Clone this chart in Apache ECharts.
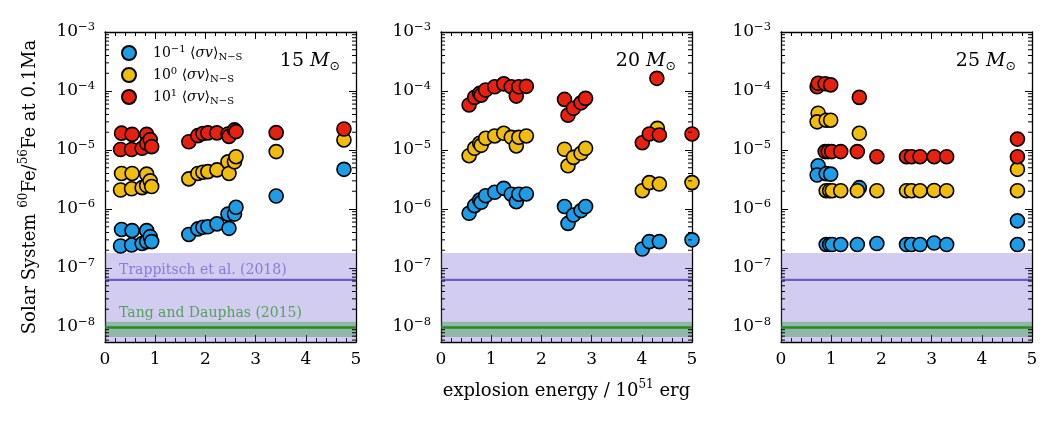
<!DOCTYPE html>
<html>
<head>
<meta charset="utf-8">
<script src="https://cdn.jsdelivr.net/npm/echarts@6/dist/echarts.min.js"></script>
<style>
  html, body { margin: 0; padding: 0; background: #fff; }
  #chart { width: 1062px; height: 424px; }
</style>
</head>
<body>
<div id="chart"></div>
<script>
// values: [explosion energy (1e51 erg), 60Fe/56Fe]
var m15Blue = [[0.31, 2.36e-7], [0.33, 4.5e-7], [0.53, 2.45e-7], [0.54, 4.3e-7], [0.74, 2.6e-7], [0.83, 4.3e-7], [0.83, 2.8e-7], [0.9, 3.4e-7], [0.93, 2.8e-7],
  [1.67, 3.7e-7], [1.85, 4.6e-7], [1.95, 4.9e-7], [2.05, 5.0e-7], [2.23, 5.6e-7], [2.45, 8.2e-7], [2.47, 4.7e-7], [2.58, 8.2e-7], [2.61, 1.07e-6], [3.41, 1.66e-6], [4.76, 4.7e-6]]
var m15Yellow = [[0.31, 2.1e-6], [0.33, 4.0e-6], [0.53, 2.2e-6], [0.54, 4.0e-6], [0.74, 2.3e-6], [0.83, 3.9e-6], [0.83, 2.5e-6], [0.9, 3.0e-6], [0.93, 2.4e-6],
  [1.67, 3.24e-6], [1.85, 4.0e-6], [1.95, 4.2e-6], [2.05, 4.3e-6], [2.23, 4.6e-6], [2.45, 6.3e-6], [2.47, 4.0e-6], [2.58, 6.3e-6], [2.61, 7.7e-6], [3.41, 9.4e-6], [4.76, 1.48e-5]]
var m15Red = [[0.31, 1.02e-5], [0.33, 1.93e-5], [0.53, 1.02e-5], [0.54, 1.84e-5], [0.74, 1.07e-5], [0.83, 1.84e-5], [0.83, 1.3e-5], [0.9, 1.5e-5], [0.93, 1.14e-5],
  [1.67, 1.38e-5], [1.85, 1.75e-5], [1.95, 1.9e-5], [2.05, 1.95e-5], [2.23, 1.95e-5], [2.45, 1.87e-5], [2.47, 1.7e-5], [2.58, 2.19e-5], [2.61, 2.05e-5], [3.41, 1.97e-5], [4.76, 2.27e-5]]

var m20Blue = [[0.56, 8.45e-7], [0.67, 1.14e-6], [0.77, 1.42e-6], [0.8, 1.3e-6], [0.89, 1.68e-6], [1.07, 1.92e-6], [1.25, 2.24e-6], [1.4, 1.78e-6], [1.5, 1.33e-6], [1.55, 1.78e-6], [1.7, 1.8e-6],
  [2.46, 1.1e-6], [2.53, 5.7e-7], [2.64, 7.9e-7], [2.79, 9.4e-7], [2.88, 1.1e-6], [4.01, 2.1e-7], [4.15, 2.8e-7], [4.35, 2.8e-7], [5.0, 3.0e-7]]
var m20Yellow = [[0.56, 8.0e-6], [0.67, 1.07e-5], [0.77, 1.3e-5], [0.8, 1.2e-5], [0.89, 1.58e-5], [1.07, 1.73e-5], [1.25, 1.92e-5], [1.4, 1.64e-5], [1.5, 1.17e-5], [1.55, 1.64e-5], [1.7, 1.73e-5],
  [2.46, 1.03e-5], [2.53, 5.4e-6], [2.64, 7.5e-6], [2.79, 8.8e-6], [2.88, 1.07e-5], [4.01, 2.04e-6], [4.15, 2.8e-6], [4.31, 2.33e-5], [4.35, 2.65e-6], [5.0, 2.8e-6]]
var m20Red = [[0.56, 5.8e-5], [0.67, 7.8e-5], [0.77, 9.1e-5], [0.8, 8.5e-5], [0.89, 1.04e-4], [1.07, 1.18e-4], [1.25, 1.32e-4], [1.4, 1.18e-4], [1.5, 8.2e-5], [1.55, 1.18e-4], [1.7, 1.2e-4],
  [2.46, 7.2e-5], [2.53, 3.9e-5], [2.64, 5.1e-5], [2.79, 6.3e-5], [2.88, 7.5e-5], [4.01, 1.33e-5], [4.15, 1.87e-5], [4.3, 1.64e-4], [4.35, 1.8e-5], [5.0, 1.87e-5]]

var m25Blue = [[0.74, 5.4e-6], [0.72, 3.77e-6], [0.9, 3.97e-6], [0.99, 3.9e-6], [1.56, 2.3e-6],
  [0.9, 2.5e-7], [0.97, 2.5e-7], [1.02, 2.5e-7], [1.19, 2.5e-7], [1.52, 2.5e-7], [1.91, 2.6e-7], [2.5, 2.5e-7], [2.6, 2.5e-7], [2.77, 2.5e-7], [3.05, 2.65e-7], [3.3, 2.5e-7], [4.71, 6.3e-7], [4.71, 2.5e-7]]
var m25Yellow = [[0.74, 4.2e-5], [0.72, 3.0e-5], [0.9, 3.2e-5], [0.99, 3.2e-5], [1.56, 1.92e-5],
  [0.9, 2.04e-6], [0.97, 2.04e-6], [1.02, 2.04e-6], [1.19, 2.04e-6], [1.52, 2.04e-6], [1.91, 2.04e-6], [2.5, 2.04e-6], [2.6, 2.04e-6], [2.77, 2.04e-6], [3.05, 2.06e-6], [3.3, 2.04e-6], [4.71, 4.7e-6], [4.71, 2.04e-6]]
var m25Red = [[0.72, 1.18e-4], [0.74, 1.35e-4], [0.88, 1.33e-4], [0.99, 1.27e-4], [1.56, 7.8e-5],
  [0.88, 9.4e-6], [0.94, 9.4e-6], [1.01, 9.4e-6], [1.19, 9.4e-6], [1.52, 9.4e-6], [1.91, 7.7e-6], [2.5, 7.7e-6], [2.6, 7.7e-6], [2.77, 7.7e-6], [3.05, 7.7e-6], [3.3, 7.7e-6], [4.71, 1.53e-5], [4.71, 7.7e-6]]

// measured ranges: [low, high, central]
var trappitsch = [5.57e-9, 1.8e-7, 6.3e-8]
var tang = [6.8e-9, 1.23e-8, 9.8e-9]

var masses = ['15', '20', '25']
var panels = [
  [m15Blue, m15Yellow, m15Red],
  [m20Blue, m20Yellow, m20Red],
  [m25Blue, m25Yellow, m25Red]
]
var seriesNames = ['m1', 'p0', 'p1']
var legendExp = { m1: '−1', p0: '0', p1: '1' }
var colors = ['#1e9de6', '#f0bd0f', '#e8210e']

var yMin = 5.57e-9
var yMax = 1e-3
var font = 'DejaVu Serif'
var gridLeft = [105, 441, 781]

// log minor tick positions (2..9 x 10^n)
var minorY = []
for (var n = -9; n <= -4; n++) {
  for (var k = 2; k <= 9; k++) {
    var v = k * Math.pow(10, n)
    if (v > yMin && v < yMax) minorY.push([0, v])
  }
}

var chart = echarts.init(document.getElementById('chart'))

function decadeLabel(v) {
  var e = Math.log10(v)
  var r = Math.round(e)
  if (Math.abs(e - r) > 1e-6) return ''
  return '{b|10}{s|' + (r < 0 ? '−' : '') + Math.abs(r) + '}'
}

var tickRich = {
  b: { fontFamily: font, fontSize: 17, lineHeight: 22, color: '#000' },
  s: { fontFamily: font, fontSize: 11.5, lineHeight: 12, verticalAlign: 'top', color: '#000' }
}
var nameRich = {
  t: { fontFamily: font, fontSize: 18, lineHeight: 24, color: '#000' },
  s: { fontFamily: font, fontSize: 12, lineHeight: 12, verticalAlign: 'top', color: '#000' }
}

function minorTicks(params, api) {
  var v = api.value(1)
  var l = api.coord([0, v])
  var r = api.coord([5, v])
  return {
    type: 'group',
    children: [
      { type: 'line', shape: { x1: l[0], y1: l[1], x2: l[0] + 4, y2: l[1] }, style: { stroke: '#000', lineWidth: 1 } },
      { type: 'line', shape: { x1: r[0] - 4, y1: r[1], x2: r[0], y2: r[1] }, style: { stroke: '#000', lineWidth: 1 } }
    ]
  }
}

var grids = [], xAxes = [], yAxes = [], series = [], titles = []

for (var i = 0; i < 3; i++) {
  grids.push({ left: gridLeft[i], top: 32, width: 251, height: 310 })
  var xBase = {
    type: 'value', gridIndex: i, min: 0, max: 5, interval: 1,
    axisLine: { show: true, onZero: false, lineStyle: { color: '#000', width: 1.3 } },
    axisTick: { show: true, inside: true, length: 7, lineStyle: { color: '#000', width: 1 } },
    minorTick: { show: true, splitNumber: 5, length: 4, lineStyle: { color: '#000', width: 1 } },
    splitLine: { show: false }
  }
  xAxes.push(Object.assign({}, xBase, {
    position: 'bottom',
    axisLabel: { fontFamily: font, fontSize: 17, color: '#000', margin: 9 },
    name: i === 1 ? '{t|explosion energy / 10}{s|51}{t| erg}' : '',
    nameLocation: 'middle', nameGap: 37,
    nameTextStyle: { rich: nameRich }
  }))
  xAxes.push(Object.assign({}, xBase, { position: 'top', axisLabel: { show: false } }))

  var yBase = {
    type: 'log', logBase: 10, gridIndex: i, min: yMin, max: yMax,
    axisLine: { show: true, onZero: false, lineStyle: { color: '#000', width: 1.3 } },
    axisTick: { show: true, inside: true, length: 7, lineStyle: { color: '#000', width: 1 } },
    minorTick: { show: false },
    splitLine: { show: false }
  }
  yAxes.push(Object.assign({}, yBase, {
    position: 'left',
    axisLabel: { formatter: decadeLabel, margin: 10, showMinLabel: false, rich: tickRich },
    name: i === 0 ? '{t|Solar System }{s|60}{t|Fe/}{s|56}{t|Fe at 0.1Ma}' : '',
    nameLocation: 'middle', nameGap: 63, nameRotate: 90,
    nameTextStyle: { rich: nameRich }
  }))
  yAxes.push(Object.assign({}, yBase, { position: 'right', axisLabel: { show: false } }))

  // shaded measurement bands (+ their captions in the first panel)
  series.push({
    type: 'scatter', xAxisIndex: 2 * i, yAxisIndex: 2 * i, z: 1, silent: true,
    symbolSize: 0,
    data: i === 0 ? [
      { value: [0.28, 9e-8, 'Trappitsch et al. (2018)'], label: { color: '#7466d6' } },
      { value: [0.28, 1.72e-8, 'Tang and Dauphas (2015)'], label: { color: '#2e9a2e' } }
    ] : [],
    label: {
      show: true, position: 'right', distance: 0,
      fontFamily: font, fontSize: 14,
      formatter: function (p) { return p.value[2] }
    },
    itemStyle: { color: 'transparent' },
    markArea: {
      silent: true,
      data: [
        [{ yAxis: trappitsch[0], itemStyle: { color: 'rgba(106,90,205,0.3)' } }, { yAxis: trappitsch[1] }],
        [{ yAxis: tang[0], itemStyle: { color: 'rgba(0,128,0,0.3)' } }, { yAxis: tang[1] }]
      ]
    }
  })

  // central values as horizontal lines
  series.push({
    type: 'line', xAxisIndex: 2 * i, yAxisIndex: 2 * i, z: 2, silent: true,
    symbol: 'none', lineStyle: { color: '#6a5acd', width: 2.4 },
    data: [[0, trappitsch[2]], [5, trappitsch[2]]]
  })
  series.push({
    type: 'line', xAxisIndex: 2 * i, yAxisIndex: 2 * i, z: 2, silent: true,
    symbol: 'none', lineStyle: { color: '#228b22', width: 2.6 },
    data: [[0, tang[2]], [5, tang[2]]]
  })

  series.push({
    type: 'custom', xAxisIndex: 2 * i, yAxisIndex: 2 * i, z: 10, silent: true,
    renderItem: minorTicks, data: minorY, clip: false
  })

  for (var c = 0; c < 3; c++) {
    series.push({
      name: seriesNames[c], type: 'scatter', xAxisIndex: 2 * i, yAxisIndex: 2 * i, z: 5,
      symbol: 'circle', symbolSize: 14, clip: false,
      itemStyle: { color: colors[c], borderColor: '#000', borderWidth: 1.6, opacity: 1 },
      data: panels[i][c]
    })
  }

  titles.push({
    text: '{n|' + masses[i] + ' }{m|M}{o|⊙}',
    right: 1062 - (gridLeft[i] + 251) + 11, top: 44,
    textStyle: {
      fontWeight: 'normal',
      rich: {
        n: { fontFamily: font, fontSize: 19, lineHeight: 24, color: '#000' },
        m: { fontFamily: font, fontSize: 19, fontStyle: 'italic', lineHeight: 24, color: '#000' },
        o: { fontFamily: 'DejaVu Sans', fontSize: 12.5, lineHeight: 14, verticalAlign: 'bottom', color: '#000' }
      }
    }
  })
}

chart.setOption({
  animation: false,
  backgroundColor: '#fff',
  title: titles,
  grid: grids,
  xAxis: xAxes,
  yAxis: yAxes,
  legend: {
    data: seriesNames,
    orient: 'vertical', left: 116, top: 39,
    itemWidth: 28, itemHeight: 14, itemGap: 4,
    formatter: function (name) {
      return '{b|10}{s|' + legendExp[name] + '}{t| ⟨}{i|σv}{t|⟩}{u|N−S}'
    },
    textStyle: {
      padding: [0, 0, 0, 5],
      rich: {
        b: { fontFamily: font, fontSize: 14, lineHeight: 18, color: '#000' },
        s: { fontFamily: font, fontSize: 10, lineHeight: 10, verticalAlign: 'top', color: '#000' },
        t: { fontFamily: font, fontSize: 14, lineHeight: 18, color: '#000' },
        i: { fontFamily: font, fontSize: 14, fontStyle: 'italic', lineHeight: 18, color: '#000' },
        u: { fontFamily: font, fontSize: 10, lineHeight: 10, verticalAlign: 'bottom', color: '#000' }
      }
    }
  },
  series: series
})
</script>
</body>
</html>
